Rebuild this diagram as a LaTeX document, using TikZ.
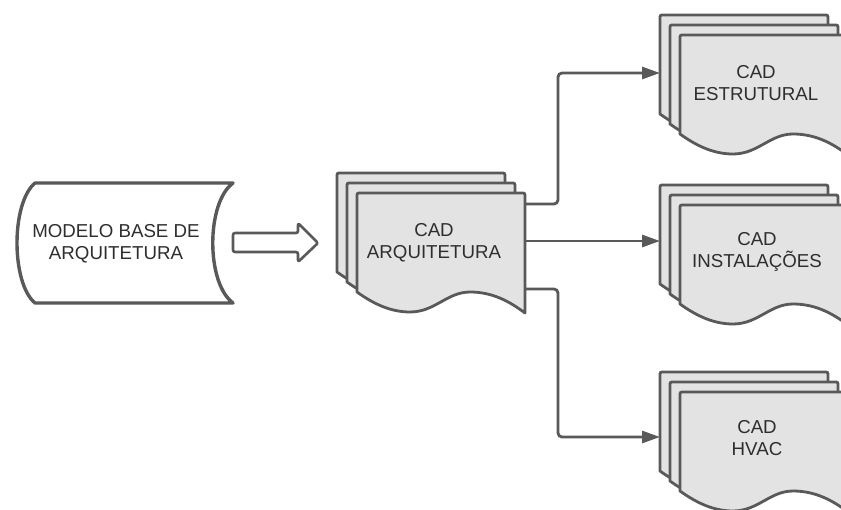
\documentclass[tikz,border=0pt]{standalone}
\usepackage{fontspec}
\setmainfont{Liberation Sans}
\usetikzlibrary{arrows.meta}

\definecolor{edge}{HTML}{595959}
\definecolor{paper}{HTML}{E3E3E3}
\definecolor{ink}{HTML}{2E2E2E}

\tikzset{
  shapeline/.style={draw=edge, line width=2.8pt, line join=round},
  label/.style={text=ink, align=center, inner sep=0pt,
    font=\fontsize{18.7}{22}\selectfont},
  conn/.style={draw=edge, line width=2.8pt, rounded corners=4pt,
    -{Triangle[length=18pt,width=12pt]}},
  % one sheet with a wavy lower edge, top-left corner at the origin
  sheet/.pic={
    \path[shapeline, fill=paper]
      (0,99) -- (0,4) .. controls (0,0) .. (4,0) -- (164,0)
      .. controls (168,0) .. (168,4) -- (168,120)
      .. controls (152,108) and (135,99) .. (113,99)
      .. controls (90,99) and (78,119) .. (53,119)
      .. controls (35,119) and (18,112) .. (0,99) -- cycle;
  },
  % stack of three sheets, front sheet's top-left corner at the origin
  multidoc/.pic={
    \pic at (-20,-20) {sheet};
    \pic at (-10,-10) {sheet};
    \pic at (0,0) {sheet};
  }
}

\begin{document}
\begin{tikzpicture}[x=1pt, y=-1pt]
\clip (0,0) rectangle (841,509);
\fill[white] (0,0) rectangle (841,509);

% stored model
\path[shapeline, line width=3.4pt, fill=white]
  (35,183) -- (233,183)
  .. controls (206,203) and (206,283) .. (233,303)
  -- (35,303)
  .. controls (11,283) and (11,203) .. (35,183) -- cycle;
\node[label] (model) at (116,244) {MODELO BASE DE\\ARQUITETURA};

% hollow block arrow
\path[shapeline, fill=white, line width=2.6pt, rounded corners=2pt]
  (233,233) -- (298,233) -- (298,223) -- (318,243) -- (298,262)
  -- (298,252) -- (233,252) -- cycle;

% document stacks
\pic at (357,193) {multidoc};
\pic at (680,35)  {multidoc};
\pic at (680,205) {multidoc};
\pic at (680,392) {multidoc};

\node[label] (arq)  at (434,243) {CAD\\ARQUITETURA};
\node[label] (estr) at (756,83)  {CAD\\ESTRUTURAL};
\node[label] (inst) at (757,252) {CAD\\INSTALAÇÕES};
\node[label] (hvac) at (757,438) {CAD\\HVAC};

% connector ends
\coordinate (arq-o1) at (525,204);
\coordinate (arq-o2) at (525,241);
\coordinate (arq-o3) at (525,289);
\coordinate (estr-in) at (660,73);
\coordinate (inst-in) at (660,241);
\coordinate (hvac-in) at (660,437);

\draw[conn] (arq-o1) -- (558,204) |- (estr-in);
\draw[conn] (arq-o2) -- (inst-in);
\draw[conn] (arq-o3) -- (558,289) |- (hvac-in);
\end{tikzpicture}
\end{document}
